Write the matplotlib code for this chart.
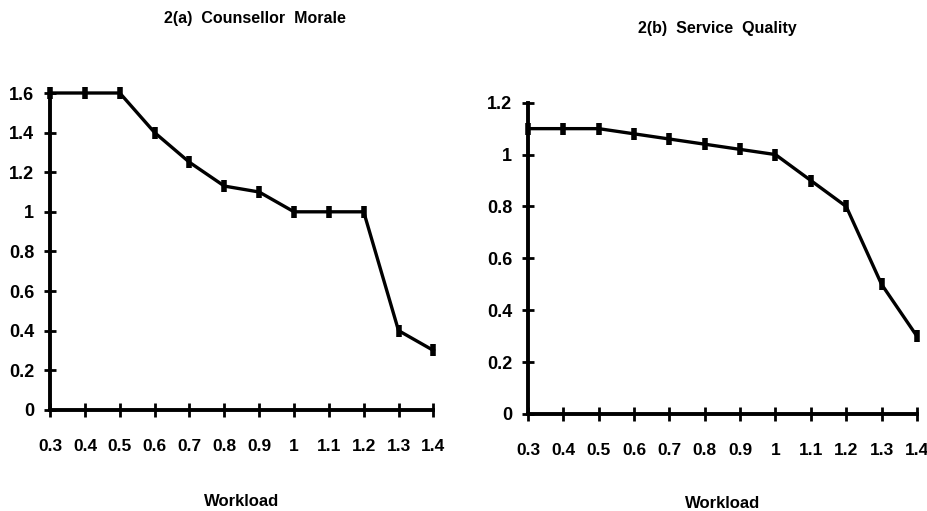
import matplotlib
matplotlib.use("Agg")
import matplotlib.pyplot as plt

# Data
workload = [0.3, 0.4, 0.5, 0.6, 0.7, 0.8, 0.9, 1.0, 1.1, 1.2, 1.3, 1.4]
workload_labels = ["0.3", "0.4", "0.5", "0.6", "0.7", "0.8", "0.9", "1", "1.1", "1.2", "1.3", "1.4"]
morale = [1.6, 1.6, 1.6, 1.4, 1.25, 1.13, 1.1, 1.0, 1.0, 1.0, 0.4, 0.3]
quality = [1.1, 1.1, 1.1, 1.08, 1.06, 1.04, 1.02, 1.0, 0.9, 0.8, 0.5, 0.3]

morale_ticks = [0, 0.2, 0.4, 0.6, 0.8, 1.0, 1.2, 1.4, 1.6]
morale_tlabels = ["0", "0.2", "0.4", "0.6", "0.8", "1", "1.2", "1.4", "1.6"]
quality_ticks = [0, 0.2, 0.4, 0.6, 0.8, 1.0, 1.2]
quality_tlabels = ["0", "0.2", "0.4", "0.6", "0.8", "1", "1.2"]

plt.rcParams["font.family"] = ["Liberation Sans", "DejaVu Sans"]
plt.rcParams["font.weight"] = "bold"

fig = plt.figure(figsize=(9.28, 5.11), dpi=100)


def panel(rect, y, ticks, tlabels, ytop, xpad, xlabel_pad):
    ax = fig.add_axes(rect)
    ax.plot(workload, y, color="black", lw=2.4, marker="|", ms=9, mew=4,
            clip_on=False, zorder=3)
    ax.set_xlim(0.3, 1.4)
    ax.set_ylim(0, ytop)
    ax.set_xticks(workload)
    ax.set_xticklabels(workload_labels, fontsize=12.5, fontweight="bold")
    ax.set_yticks(ticks)
    ax.set_yticklabels(tlabels, fontsize=13, fontweight="bold")
    for s in ("top", "right"):
        ax.spines[s].set_visible(False)
    for s in ("left", "bottom"):
        ax.spines[s].set_linewidth(2.8)
    ax.tick_params(axis="x", direction="inout", length=10, width=2, pad=xpad)
    ax.tick_params(axis="y", direction="inout", length=9, width=2, pad=7)
    ax.set_xlabel("Workload", fontsize=12, fontweight="bold", labelpad=xlabel_pad)
    return ax


panel([0.054, 0.198, 0.413, 0.620], morale, morale_ticks, morale_tlabels, 1.6, 16, 29)
panel([0.569, 0.190, 0.419, 0.609], quality, quality_ticks, quality_tlabels, 1.2, 16, 27)

fig.text(255 / 928, 1 - 18 / 511, "2(a)  Counsellor  Morale", ha="center", va="center",
         fontsize=11.5, fontweight="bold")
fig.text(717 / 928, 1 - 28 / 511, "2(b)  Service  Quality", ha="center", va="center",
         fontsize=11.5, fontweight="bold")

fig.savefig("out.png", dpi=100, facecolor="white")
